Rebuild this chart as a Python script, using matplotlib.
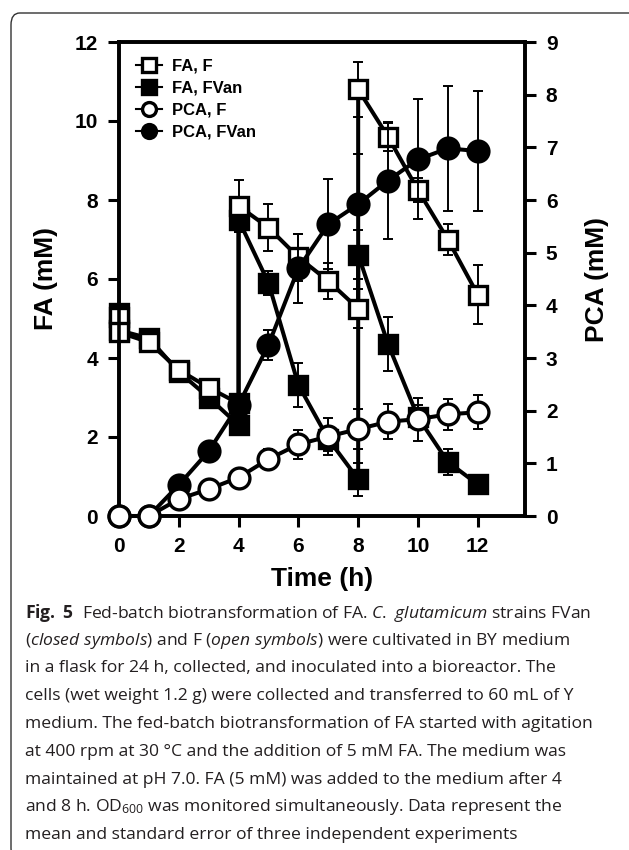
import matplotlib
matplotlib.use("Agg")
import matplotlib.pyplot as plt
from matplotlib.patches import FancyBboxPatch

plt.rcParams['font.family'] = ['Liberation Sans', 'DejaVu Sans']
plt.rcParams['mathtext.fontset'] = 'custom'
plt.rcParams['mathtext.rm'] = 'Open Sans'
plt.rcParams['mathtext.it'] = 'Open Sans:italic'
plt.rcParams['mathtext.bf'] = 'Open Sans:bold'

# FA (mM), left axis; t=0, 4 and 8 appear twice (before / after feeding)
t_fa = [0, 0, 1, 2, 3, 4, 4, 5, 6, 7, 8, 8, 9, 10, 11, 12]
fa_f = [5.05, 4.65, 4.4, 3.7, 3.25, 2.85, 7.85, 7.3, 6.55, 5.95, 5.25, 10.8, 9.6, 8.25, 7.0, 5.6]
fa_f_err = [0.15, 0.12, 0.12, 0.12, 0.12, 0.15, 0.65, 0.6, 0.6, 0.45, 0.5, 0.7, 0.36, 0.3, 0.4, 0.75]
fa_fvan = [5.15, 4.7, 4.5, 3.65, 3.0, 2.3, 7.5, 5.9, 3.32, 1.95, 0.93, 6.62, 4.35, 2.5, 1.37, 0.8]
fa_fvan_err = [0.1, 0.1, 0.1, 0.15, 0.1, 0.12, 0.3, 0.3, 0.55, 0.3, 0.42, 0.63, 0.68, 0.3, 0.32, 0.1]

# PCA (mM), right axis
t_pca = [0, 1, 2, 3, 4, 5, 6, 7, 8, 9, 10, 11, 12]
pca_f = [0, 0, 0.32, 0.51, 0.73, 1.08, 1.36, 1.51, 1.65, 1.79, 1.84, 1.93, 1.97]
pca_f_err = [0.02, 0.02, 0.05, 0.05, 0.08, 0.19, 0.27, 0.36, 0.38, 0.33, 0.41, 0.29, 0.32]
pca_fvan = [0, 0, 0.59, 1.23, 2.11, 3.25, 4.70, 5.54, 5.92, 6.37, 6.77, 6.98, 6.93]
pca_fvan_err = [0.02, 0.02, 0.05, 0.08, 0.1, 0.28, 0.65, 0.85, 0.95, 1.11, 1.14, 1.19, 1.14]

caption = [
    r"$\mathbf{Fig.\ 5}$  Fed-batch biotransformation of FA. $\mathit{C.\ glutamicum}$ strains FVan",
    r"($\mathit{closed\ symbols}$) and F ($\mathit{open\ symbols}$) were cultivated in BY medium",
    "in a flask for 24 h, collected, and inoculated into a bioreactor. The",
    "cells (wet weight 1.2 g) were collected and transferred to 60 mL of Y",
    "medium. The fed-batch biotransformation of FA started with agitation",
    "at 400 rpm at 30 °C and the addition of 5 mM FA. The medium was",
    "maintained at pH 7.0. FA (5 mM) was added to the medium after 4",
    r"and 8 h. OD$_{600}$ was monitored simultaneously. Data represent the",
    "mean and standard error of three independent experiments",
]

fig = plt.figure(figsize=(6.29, 8.5), dpi=100)
ax = fig.add_axes([119/629, 1-516/850, 406/629, 474/850])
ax2 = ax.twinx()

lw = 2.9
ms = 13
mew = 2.4
eb = dict(fmt='none', ecolor='black', elinewidth=1.4, capsize=3.5, capthick=1.4, clip_on=False)

ax.errorbar(t_fa, fa_fvan, yerr=fa_fvan_err, zorder=2, **eb)
ax.errorbar(t_fa, fa_f, yerr=fa_f_err, zorder=2, **eb)
h2, = ax.plot(t_fa, fa_fvan, '-s', color='black', lw=lw, ms=ms, mfc='black', mec='black', mew=mew,
              clip_on=False, zorder=3, label='FA, FVan')
h1, = ax.plot(t_fa, fa_f, '-s', color='black', lw=lw, ms=ms, mfc='white', mec='black', mew=mew,
              clip_on=False, zorder=4, label='FA, F')

ax2.errorbar(t_pca, pca_fvan, yerr=pca_fvan_err, zorder=2, **eb)
ax2.errorbar(t_pca, pca_f, yerr=pca_f_err, zorder=2, **eb)
h4, = ax2.plot(t_pca, pca_fvan, '-o', color='black', lw=lw, ms=ms+2, mfc='black', mec='black', mew=mew,
               clip_on=False, zorder=3, label='PCA, FVan')
h3, = ax2.plot(t_pca, pca_f, '-o', color='black', lw=lw, ms=ms+2, mfc='white', mec='black', mew=mew,
               clip_on=False, zorder=4, label='PCA, F')

ax.set_xlim(0, 13.58)
ax.set_ylim(0, 12)
ax2.set_ylim(0, 9)
ax.set_xticks(range(0, 13, 2))
ax.set_yticks(range(0, 13, 2))
ax2.set_yticks(range(0, 10))

for a in (ax, ax2):
    for s in a.spines.values():
        s.set_linewidth(2.6)
    a.tick_params(direction='out', length=8, width=2.2, labelsize=15, pad=7)
    for lab in a.get_xticklabels() + a.get_yticklabels():
        lab.set_fontweight('bold')

ax.set_ylabel('FA (mM)', fontsize=19, fontweight='bold', labelpad=12)
ax2.set_ylabel('PCA (mM)', fontsize=19, fontweight='bold', labelpad=20)
ax.set_xlabel('Time (h)', fontsize=19, fontweight='bold', labelpad=8)

leg = ax2.legend(handles=[h1, h2, h3, h4], loc='upper left', frameon=False,
                 bbox_to_anchor=(0.0, 1.0), handlelength=1.6, handletextpad=0.6,
                 labelspacing=0.42, borderaxespad=0.6,
                 prop={'weight': 'bold', 'size': 12})
for lh in leg.legend_handles:
    lh.set_markersize(10)
    lh.set_linewidth(1.5)

# caption
for i, line in enumerate(caption):
    fig.text(25/629, 1 - (613 + i*27.75)/850, line, fontsize=12.6, family='Open Sans',
             color='#231f20', ha='left', va='center')

# rounded frame, only top and left edges visible
box = FancyBboxPatch((11/629, -10/850), 700/629, (850-13+10)/850,
                     boxstyle='round,pad=0,rounding_size=0.014', transform=fig.transFigure,
                     fill=False, edgecolor='#333333', lw=1.0)
fig.patches.append(box)

fig.savefig('out.png', dpi=100)
